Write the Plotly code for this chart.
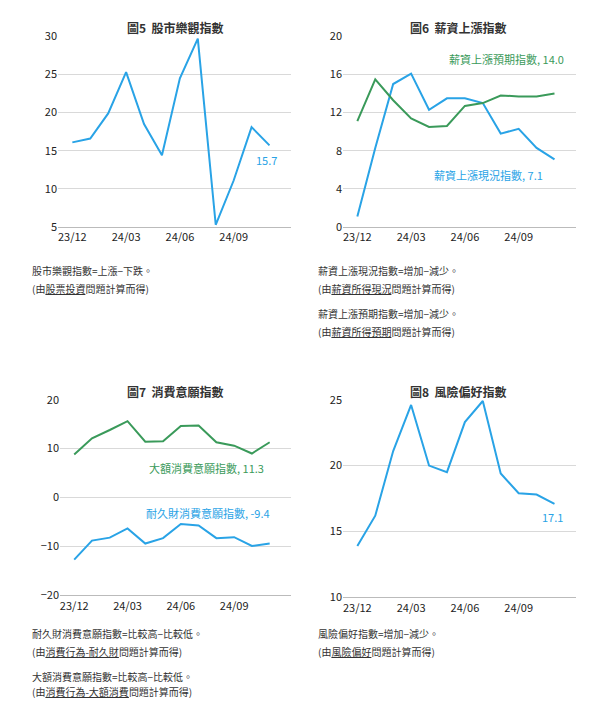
import plotly.graph_objects as go

months = ["23/12","24/01","24/02","24/03","24/04","24/05","24/06","24/07","24/08","24/09","24/10","24/11"]
tick_labels = ["23/12","24/03","24/06","24/09"]
stock = [16.1,16.6,19.9,25.3,18.5,14.4,24.5,29.7,5.3,11.1,18.1,15.7]
wage_now = [1.1,8.3,15.0,16.1,12.3,13.5,13.5,13.0,9.8,10.3,8.3,7.1]
wage_exp = [11.1,15.5,13.3,11.4,10.5,10.6,12.7,13.0,13.8,13.7,13.7,14.0]
big_cons = [8.8,12.1,13.8,15.6,11.4,11.5,14.6,14.7,11.3,10.6,9.0,11.3]
durable = [-12.7,-8.8,-8.2,-6.3,-9.4,-8.3,-5.4,-5.7,-8.3,-8.1,-9.9,-9.4]
risk = [13.9,16.2,21.1,24.6,20.0,19.5,23.3,24.9,19.4,17.9,17.8,17.1]

BLUE = "#29a3e6"; GREEN = "#3a9a5a"
W, H = 590, 714
xs = list(range(12))
def px(x): return x / W
def py(y):
    y = 28 + (y - 45) / 0.974
    return max(0, min(1, 1 - y / H))

fig = go.Figure()
panels = [
    (1, (50, 283), (37, 227), [5, 30], [5,10,15,20,25,30], [(stock, BLUE)]),
    (2, (335, 568), (37, 227), [0, 20], [0,4,8,12,16,20], [(wage_now, BLUE), (wage_exp, GREEN)]),
    (3, (52, 283), (399, 594), [-20, 20], [-20,-10,0,10,20], [(big_cons, GREEN), (durable, BLUE)]),
    (4, (335, 568), (399, 596), [10, 25], [10,15,20,25], [(risk, BLUE)]),
]
for n, xd, yd, yr, tv, series in panels:
    sfx = "" if n == 1 else str(n)
    for vals, c in series:
        fig.add_trace(go.Scatter(x=xs, y=vals, mode="lines", line=dict(color=c, width=2),
                                 xaxis="x"+sfx, yaxis="y"+sfx, showlegend=False, hoverinfo="skip"))
    fig.layout["xaxis"+sfx] = dict(domain=[px(xd[0]), px(xd[1])], anchor="y"+sfx, range=[-0.8, 12.2],
        tickvals=[0,3,6,9], ticktext=tick_labels, showgrid=False, showline=True, linecolor="#bbbbbb",
        ticks="", tickfont=dict(size=11, color="#222"), zeroline=False)
    fig.layout["yaxis"+sfx] = dict(domain=[py(yd[1]), py(yd[0])], anchor="x"+sfx, range=yr, tickvals=tv,
        showgrid=True, gridcolor="#d9d9d9", zeroline=False, ticks="", tickfont=dict(size=11, color="#222"))

def U(s): return '<span style="text-decoration:underline">' + s + '</span>'
anns = [
    (167, 28, "<b>圖5  股市樂觀指數</b>", "#333", 12, "center"),
    (450, 28, "<b>圖6  薪資上漲指數</b>", "#333", 12, "center"),
    (167, 391, "<b>圖7  消費意願指數</b>", "#333", 12, "center"),
    (450, 391, "<b>圖8  風險偏好指數</b>", "#333", 12, "center"),
    (271, 160, "15.7", BLUE, 11, "right"),
    (558, 60, "薪資上漲預期指數, 14.0", GREEN, 11, "right"),
    (537, 175, "薪資上漲現況指數, 7.1", BLUE, 11, "right"),
    (258, 467, "大額消費意願指數, 11.3", GREEN, 11, "right"),
    (264, 512, "耐久財消費意願指數, -9.4", BLUE, 11, "right"),
    (557, 516, "17.1", BLUE, 11, "right"),
]
for x, y, t, c, s, al in anns:
    fig.add_annotation(x=px(x), y=py(y), xref="paper", yref="paper", text=t, showarrow=False,
                       xanchor=al, yanchor="middle", font=dict(color=c, size=s))
notes = [
    (22, 270, "股市樂觀指數=上漲−下跌。"),
    (22, 288, "(由" + U("股票投資") + "問題計算而得)"),
    (308, 270, "薪資上漲現況指數=增加−減少。"),
    (308, 288, "(由" + U("薪資所得現況") + "問題計算而得)"),
    (308, 313, "薪資上漲預期指數=增加−減少。"),
    (308, 331, "(由" + U("薪資所得預期") + "問題計算而得)"),
    (22, 632, "耐久財消費意願指數=比較高−比較低。"),
    (22, 650, "(由" + U("消費行為-耐久財") + "問題計算而得)"),
    (22, 675, "大額消費意願指數=比較高−比較低。"),
    (22, 690, "(由" + U("消費行為-大額消費") + "問題計算而得)"),
    (308, 632, "風險偏好指數=增加−減少。"),
    (308, 650, "(由" + U("風險偏好") + "問題計算而得)"),
]
for x, y, t in notes:
    fig.add_annotation(x=px(x), y=py(y), xref="paper", yref="paper", text=t, showarrow=False,
                       xanchor="left", yanchor="middle", font=dict(color="#333", size=10))

fig.update_layout(width=W, height=H, margin=dict(l=0, r=0, t=0, b=0), plot_bgcolor="white",
                  paper_bgcolor="white", font=dict(family="Noto Sans CJK TC, Liberation Sans, sans-serif"))
fig.write_html("out.html")
